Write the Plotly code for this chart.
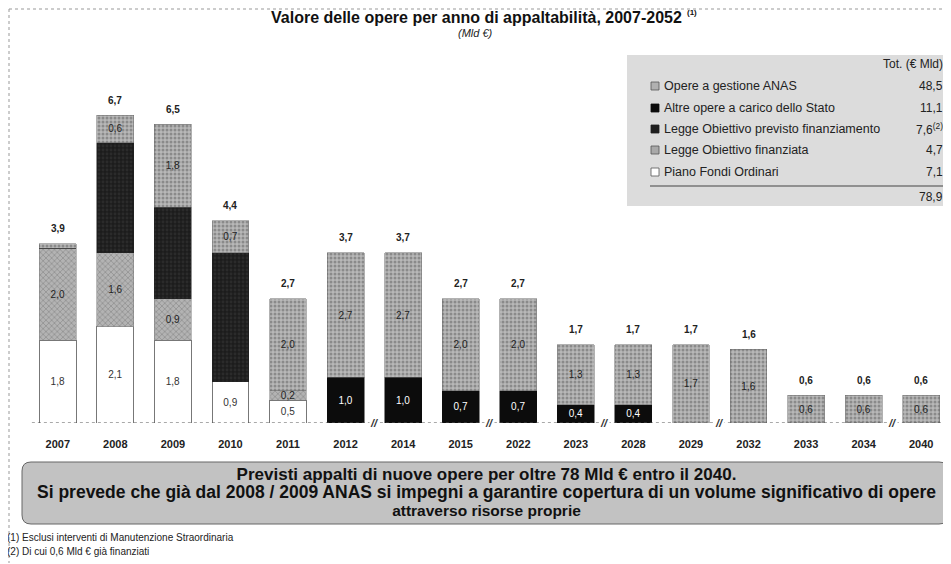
import plotly.graph_objects as go

anni = ["2007", "2008", "2009", "2010", "2011", "2012", "2014", "2015",
        "2022", "2023", "2028", "2029", "2032", "2033", "2034", "2040"]

# Mld €, dal basso verso l'alto
piano_fondi = [1.8, 2.1, 1.8, 0.9, 0.5, 0, 0, 0, 0, 0, 0, 0, 0, 0, 0, 0]
lo_finanziata = [2.0, 1.6, 0.9, 0, 0.2, 0, 0, 0, 0, 0, 0, 0, 0, 0, 0, 0]
altre_stato = [0, 0, 0, 0, 0, 1.0, 1.0, 0.7, 0.7, 0.4, 0.4, 0, 0, 0, 0, 0]
lo_previsto = [0, 2.4, 2.0, 2.8, 0, 0, 0, 0, 0, 0, 0, 0, 0, 0, 0, 0]
opere_anas = [0.1, 0.6, 1.8, 0.7, 2.0, 2.7, 2.7, 2.0, 2.0, 1.3, 1.3, 1.7, 1.6, 0.6, 0.6, 0.6]

legenda_nomi = ["Opere a gestione ANAS", "Altre opere a carico dello Stato",
                "Legge Obiettivo previsto finanziamento", "Legge Obiettivo finanziata",
                "Piano Fondi Ordinari"]
legenda_tot = ["48,5", "11,1", "7,6<sup>(2)</sup>", "4,7", "7,1"]
totale_generale = "78,9"

salti = [5.5, 7.5, 9.5, 11.5, 14.5]

FONT = "Liberation Sans, Arial, sans-serif"
OFF = 8  # margine del body nella pagina
W, H = 951 - OFF, 564 - OFF
L, R, T, B = 29 - OFF, 1, 60 - OFF, 141
PW, PH = W - L - R, H - T - B


def px(x):
    return (x - OFF - L) / PW


def py(y):
    return (H - B - (y - OFF)) / PH


def fmt(v, min_v=0.15):
    return f"{v:.1f}".replace(".", ",") if v >= min_v else ""


def rounded_box(x0, y0, x1, y1, r):
    return (f"M {px(x0 + r)},{py(y0)} L {px(x1 - r)},{py(y0)} Q {px(x1)},{py(y0)} {px(x1)},{py(y0 + r)} "
            f"L {px(x1)},{py(y1 - r)} Q {px(x1)},{py(y1)} {px(x1 - r)},{py(y1)} "
            f"L {px(x0 + r)},{py(y1)} Q {px(x0)},{py(y1)} {px(x0)},{py(y1 - r)} "
            f"L {px(x0)},{py(y0 + r)} Q {px(x0)},{py(y0)} {px(x0 + r)},{py(y0)} Z")


def note(x, y, text, size, xanchor="center", color="#111"):
    return dict(x=px(x), y=py(y), xref="paper", yref="paper", text=text, showarrow=False,
                xanchor=xanchor, yanchor="middle",
                font=dict(family=FONT, size=size, color=color))


xs = list(range(len(anni)))
fig = go.Figure()

serie = [
    (piano_fondi, "white", None, "#333", dict(color="#777", width=1), True),
    (lo_finanziata, "#a9a9a9", dict(shape="x", fgcolor="#6e6e6e", bgcolor="#b3b3b3", size=4, solidity=0.35), "#222", dict(color="#777", width=0.5), True),
    (altre_stato, "#0c0c0c", None, "white", dict(color="#0c0c0c", width=0.5), True),
    (lo_previsto, "#1f1f1f", dict(shape=".", fgcolor="#3a3a3a", bgcolor="#1c1c1c", size=4, solidity=0.4), "white", dict(color="#222", width=0.5), False),
    (opere_anas, "#a0a0a0", dict(shape=".", fgcolor="#5c5c5c", bgcolor="#b8b8b8", size=4, solidity=0.45), "#222", dict(color="#666", width=0.5), True),
]

for vals, col, pat, tcol, line, lab in serie:
    marker = dict(color=col, line=line)
    if pat:
        marker["pattern"] = pat
    fig.add_trace(go.Bar(
        x=xs, y=vals, width=0.64,
        marker=marker,
        text=[fmt(v) if lab else "" for v in vals],
        textposition="inside", insidetextanchor="middle", textangle=0,
        textfont=dict(family=FONT, size=10, color=tcol),
        hoverinfo="skip", showlegend=False,
    ))

totali = [round(sum(v), 1) for v in zip(piano_fondi, lo_finanziata, altre_stato, lo_previsto, opere_anas)]

shapes = [
    dict(type="line", xref="x", yref="y", x0=-0.45, x1=15.5, y0=0, y1=0,
         line=dict(color="#555", width=1.2, dash="dot")),
    # cornice
    dict(type="line", xref="paper", yref="paper", x0=px(9), x1=px(9), y0=py(9), y1=py(563),
         line=dict(color="#999", width=1, dash="dot")),
    dict(type="line", xref="paper", yref="paper", x0=px(9), x1=px(950), y0=py(9), y1=py(9),
         line=dict(color="#999", width=1, dash="dot")),
    # riquadro legenda
    dict(type="rect", xref="paper", yref="paper", x0=px(627), x1=px(950), y0=py(55), y1=py(206),
         fillcolor="#dcdcdc", line=dict(width=0), layer="below"),
    dict(type="line", xref="paper", yref="paper", x0=px(650), x1=px(947), y0=py(186), y1=py(186),
         line=dict(color="#444", width=1.2)),
    # box in basso
    dict(type="path", xref="paper", yref="paper", path=rounded_box(22, 462, 948, 524, 9),
         fillcolor="#c2c2c2", line=dict(color="#666", width=1)),
]

annotations = []
for i, t in zip(xs, totali):
    annotations.append(dict(x=i, y=t, xref="x", yref="y", text="<b>" + fmt(t) + "</b>",
                            showarrow=False, xanchor="center", yanchor="middle", yshift=15,
                            font=dict(family=FONT, size=10, color="#222")))
for s in salti:
    annotations.append(dict(x=s, y=0, xref="x", yref="y", text="<i><b>//</b></i>", showarrow=False,
                            xanchor="center", yanchor="middle",
                            font=dict(family=FONT, size=11, color="#333"), bgcolor="white",
                            borderpad=0))

annotations += [
    note(684, 17, "<b>Valore delle opere per anno di appaltabilità, 2007-2052</b>", 16, xanchor="right"),
    note(685, 13, "<b>(1)</b>", 8, xanchor="left"),
    note(475, 33, "<i>(Mld €)</i>", 11, color="#222"),
    note(945, 64, "Tot. (€ Mld)", 12, xanchor="right", color="#222"),
    note(945, 197, totale_generale, 12, xanchor="right", color="#222"),
]

leg_col = [("#b0b0b0", "#555"), ("#0c0c0c", "#0c0c0c"), ("#1f1f1f", "#1f1f1f"),
           ("#a9a9a9", "#555"), ("white", "#555")]
leg_y = [86, 108, 129, 150, 172]
for nome, tot, (fc, lc), y in zip(legenda_nomi, legenda_tot, leg_col, leg_y):
    shapes.append(dict(type="rect", xref="paper", yref="paper", x0=px(651), x1=px(659),
                       y0=py(y + 4), y1=py(y - 4), fillcolor=fc, line=dict(color=lc, width=0.8)))
    annotations.append(note(662, y, nome, 12.5, xanchor="left", color="#222"))
    annotations.append(note(945, y, tot, 12, xanchor="right", color="#222"))

box_testo = ("<b><span style='font-size:17px'>Previsti appalti di nuove opere per oltre 78 Mld € entro il 2040.</span><br>"
             "<span style='font-size:17.5px'>Si prevede che già dal 2008 / 2009 ANAS si impegni a garantire copertura di un volume significativo di opere</span><br>"
             "<span style='font-size:15.5px'>attraverso risorse proprie</span></b>")

annotations += [
    note(486, 492, box_testo, 13.8),
    note(5, 537, "(1) Esclusi interventi di Manutenzione Straordinaria", 10, xanchor="left", color="#222"),
    note(5, 551, "(2) Di cui 0,6 Mld € già finanziati", 10, xanchor="left", color="#222"),
]

fig.update_layout(
    width=W, height=H,
    barmode="stack",
    margin=dict(l=L, r=R, t=T, b=B),
    paper_bgcolor="white",
    plot_bgcolor="white",
    uniformtext=dict(minsize=9, mode="show"),
    shapes=shapes,
    annotations=annotations,
    xaxis=dict(range=[-0.5, 15.5], tickvals=xs, ticktext=["<b>" + a + "</b>" for a in anni],
               tickfont=dict(family=FONT, size=11, color="#222"), showgrid=False,
               zeroline=False, showline=False, ticks="outside", ticklen=11,
               tickcolor="rgba(0,0,0,0)", fixedrange=True),
    yaxis=dict(range=[0, 7.9], visible=False, fixedrange=True),
    font=dict(family=FONT),
)

fig.write_html("out.html")
